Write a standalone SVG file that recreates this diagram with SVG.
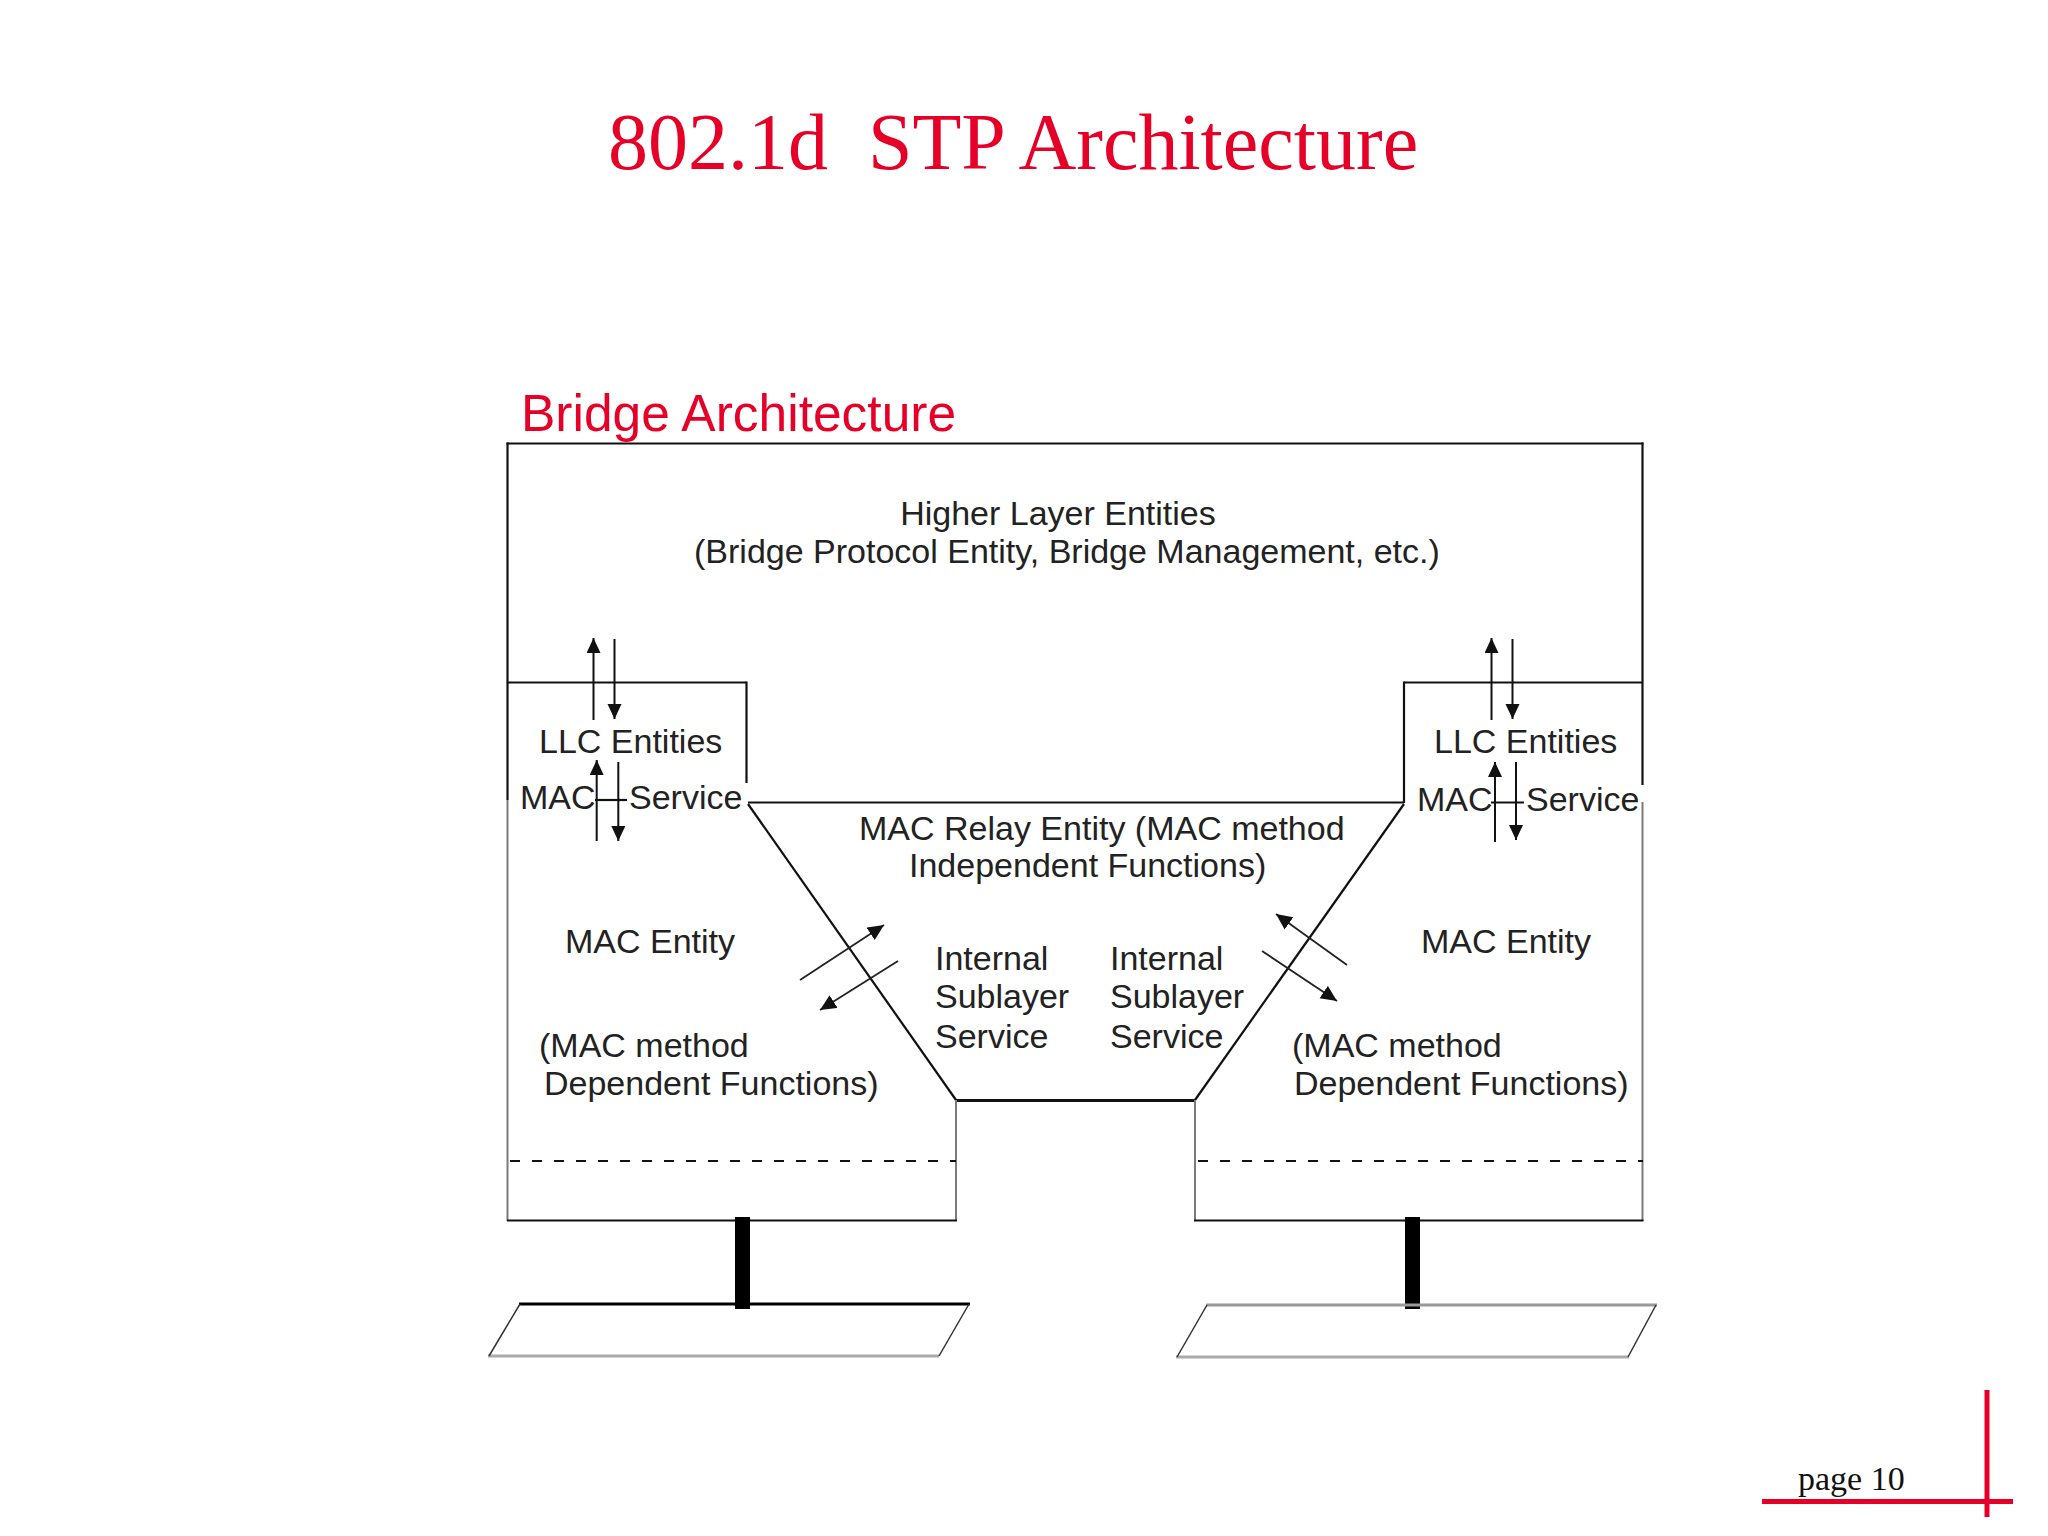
<svg xmlns="http://www.w3.org/2000/svg" width="2048" height="1536" viewBox="0 0 2048 1536">
<defs>
<style>
.t{font-family:"Liberation Sans",Arial,sans-serif;font-size:34px;fill:#222}
.red{fill:#E60028}
.ln{stroke:#111;stroke-width:2.2;fill:none}
.gl{stroke:#7a7a7a;stroke-width:2;fill:none}
.ar{stroke:#111;stroke-width:2;fill:none;marker-end:url(#ah)}
.dg{stroke:#222;stroke-width:1.8;fill:none;marker-end:url(#ah2)}
.dash{stroke:#111;stroke-width:2;stroke-dasharray:10 12;fill:none}
</style>
<marker id="ah" markerUnits="userSpaceOnUse" markerWidth="16" markerHeight="16" refX="15" refY="7" orient="auto"><path d="M0,0 L15,7 L0,14 z" fill="#111"/></marker>
<marker id="ah2" markerUnits="userSpaceOnUse" markerWidth="18" markerHeight="18" refX="16" refY="8" orient="auto"><path d="M0,0.5 L16,8 L0,15.5 z" fill="#111"/></marker>
</defs>
<rect width="2048" height="1536" fill="#ffffff"/>

<g id="title">
<text x="608" y="169" font-family="Liberation Serif,'Times New Roman',serif" font-size="80" class="red" xml:space="preserve">802.1d  STP Architecture</text>
</g>
<g id="subtitle">
<text x="521" y="431" class="t red" style="font-size:51.5px;fill:#E60028">Bridge Architecture</text>
</g>

<g id="higher-layer">
<line class="ln" x1="506.5" y1="443.5" x2="1643.5" y2="443.5"/>
<line class="ln" x1="507.5" y1="442.5" x2="507.5" y2="800"/>
<line class="gl" x1="507.5" y1="800" x2="507.5" y2="1221"/>
<line class="ln" x1="1642.5" y1="442.5" x2="1642.5" y2="785"/>
<line class="gl" x1="1642.5" y1="802" x2="1642.5" y2="1221"/>
<text class="t" x="1058" y="525" text-anchor="middle">Higher Layer Entities</text>
<text class="t" x="694" y="563">(Bridge Protocol Entity, Bridge Management, etc.)</text>
</g>

<g id="llc-left">
<line class="ln" x1="507.5" y1="682.5" x2="746.5" y2="682.5"/>
<line class="ln" x1="746.5" y1="681.5" x2="746.5" y2="783"/>
<text class="t" x="539" y="753">LLC Entities</text>
<text class="t" x="520" y="809">MAC</text>
<text class="t" x="629" y="809">Service</text>
</g>

<g id="llc-right">
<line class="ln" x1="1404" y1="682.5" x2="1642.5" y2="682.5"/>
<line class="ln" x1="1404" y1="681.5" x2="1404" y2="803"/>
<text class="t" x="1434" y="753">LLC Entities</text>
<text class="t" x="1417" y="811">MAC</text>
<text class="t" x="1526" y="811">Service</text>
</g>

<g id="mac-relay">
<line class="ln" x1="748" y1="802.5" x2="1404" y2="802.5"/>
<line class="ln" x1="748" y1="804" x2="956" y2="1100"/>
<line class="ln" x1="1404" y1="804" x2="1195" y2="1100"/>
<line x1="955" y1="1100.5" x2="1196" y2="1100.5" stroke="#111" stroke-width="3"/>
<text class="t" x="859" y="840">MAC Relay Entity (MAC method</text>
<text class="t" x="909" y="877">Independent Functions)</text>
<text class="t" x="935" y="970">Internal</text>
<text class="t" x="935" y="1008">Sublayer</text>
<text class="t" x="935" y="1048">Service</text>
<text class="t" x="1110" y="970">Internal</text>
<text class="t" x="1110" y="1008">Sublayer</text>
<text class="t" x="1110" y="1048">Service</text>
</g>

<g id="mac-left">
<line class="gl" x1="956" y1="1100" x2="956" y2="1221"/>
<line class="ln" x1="507" y1="1220.5" x2="957" y2="1220.5"/>
<line class="dash" x1="510" y1="1161" x2="956" y2="1161"/>
<text class="t" x="565" y="953">MAC Entity</text>
<text class="t" x="539" y="1057">(MAC method</text>
<text class="t" x="544" y="1095">Dependent Functions)</text>
</g>

<g id="mac-right">
<line class="gl" x1="1195" y1="1100" x2="1195" y2="1221"/>
<line class="ln" x1="1194" y1="1220.5" x2="1643.5" y2="1220.5"/>
<line class="dash" x1="1198" y1="1161" x2="1643" y2="1161"/>
<text class="t" x="1421" y="953">MAC Entity</text>
<text class="t" x="1292" y="1057">(MAC method</text>
<text class="t" x="1294" y="1095">Dependent Functions)</text>
</g>

<g id="lan-left">
<rect x="735" y="1217" width="15" height="92" fill="#000"/>
<line x1="519" y1="1304" x2="970" y2="1304" stroke="#000" stroke-width="3"/>
<line x1="488" y1="1356" x2="939" y2="1356" stroke="#aaa" stroke-width="3"/>
<line x1="520" y1="1304" x2="489" y2="1356" stroke="#333" stroke-width="1.5"/>
<line x1="969" y1="1304" x2="939" y2="1356" stroke="#333" stroke-width="1.5"/>
</g>

<g id="lan-right">
<rect x="1405" y="1217" width="15" height="92" fill="#000"/>
<line x1="1206" y1="1305" x2="1657" y2="1305" stroke="#999" stroke-width="3"/>
<line x1="1176" y1="1357" x2="1629" y2="1357" stroke="#aaa" stroke-width="3"/>
<line x1="1207" y1="1305" x2="1177" y2="1357" stroke="#333" stroke-width="1.5"/>
<line x1="1656" y1="1305" x2="1628" y2="1357" stroke="#333" stroke-width="1.5"/>
</g>

<g id="connectors">
<line class="ar" x1="593.5" y1="720" x2="593.5" y2="638"/>
<line class="ar" x1="614.5" y1="639" x2="614.5" y2="719"/>
<line class="ar" x1="1491.5" y1="720" x2="1491.5" y2="638"/>
<line class="ar" x1="1512.5" y1="639" x2="1512.5" y2="719"/>
<line class="ar" x1="596.7" y1="841" x2="596.7" y2="760"/>
<line class="ar" x1="618.3" y1="762" x2="618.3" y2="841"/>
<line class="ln" x1="595" y1="800" x2="627" y2="800"/>
<line class="ar" x1="1495" y1="842" x2="1495" y2="762"/>
<line class="ar" x1="1516" y1="762" x2="1516" y2="840"/>
<line class="ln" x1="1491" y1="802.5" x2="1524" y2="802.5"/>
<line class="dg" x1="800" y1="980" x2="884" y2="925"/>
<line class="dg" x1="898" y1="961" x2="820" y2="1010"/>
<line class="dg" x1="1347" y1="965" x2="1276" y2="914"/>
<line class="dg" x1="1262" y1="951" x2="1337" y2="1001"/>
</g>

<g id="footer">
<text x="1798" y="1490" font-family="Liberation Serif,'Times New Roman',serif" font-size="34" fill="#111">page 10</text>
<line x1="1762" y1="1501.5" x2="2013" y2="1501.5" stroke="#E60028" stroke-width="5"/>
<line x1="1987" y1="1390" x2="1987" y2="1517" stroke="#E60028" stroke-width="5"/>
</g>
</svg>
